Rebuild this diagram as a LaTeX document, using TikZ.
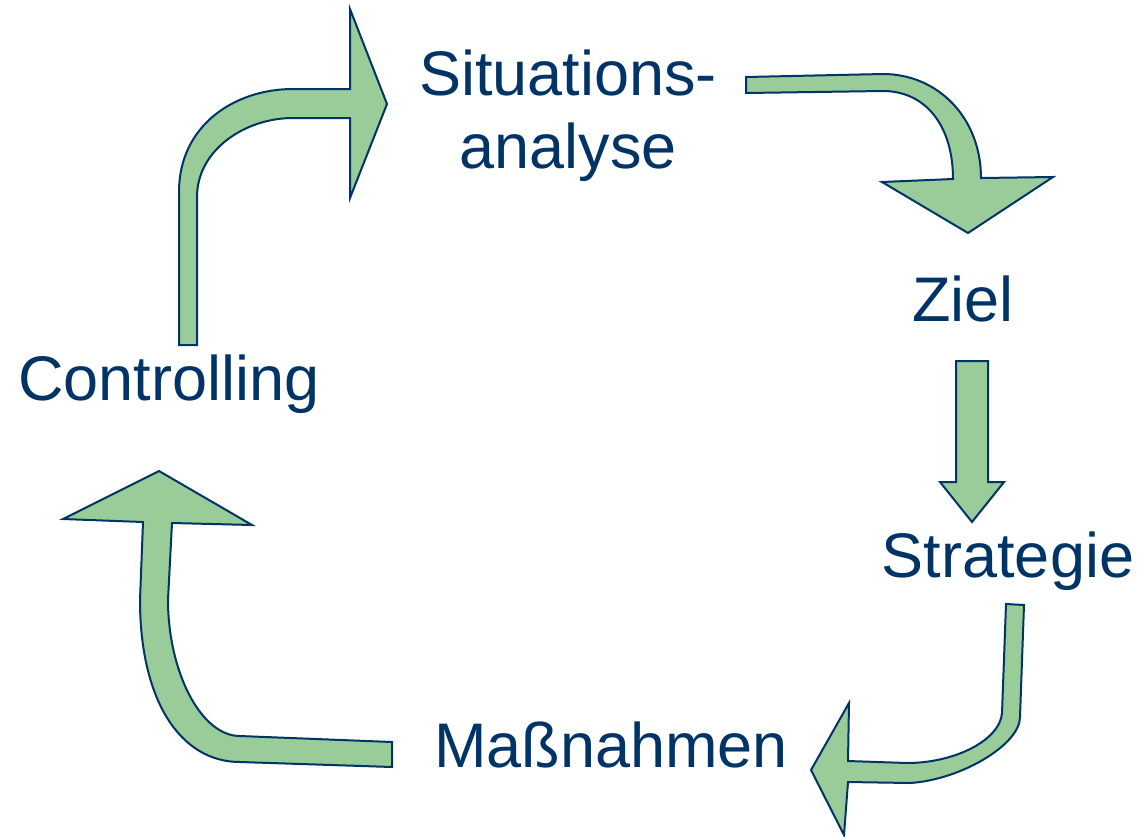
\documentclass[tikz,border=0pt]{standalone}
\usepackage{fontspec}
\setmainfont{Liberation Sans}
\definecolor{navy}{RGB}{0,51,102}
\definecolor{leaf}{RGB}{153,204,153}
\tikzset{
  lbl/.style={text=navy, inner sep=0pt, anchor=base, font=\fontsize{63}{73}\selectfont},
  bigarrow/.style={fill=leaf, draw=navy, line width=2pt, line join=miter}
}
\begin{document}
\begin{tikzpicture}[x=1pt,y=-1pt]
\useasboundingbox (0,0) rectangle (1142,836);
% texts
\node[lbl, align=center] (sit) at (568,168) {Situations-\\analyse};
\node[lbl] (ziel) at (963,321) {Ziel};
\node[lbl] (strat) at (1008,577) {Strategie};
\node[lbl] (mass) at (611,767) {Maßnahmen};
\node[lbl] (ctrl) at (169,400) {Controlling};
% arrow Controlling -> Situationsanalyse
\draw[bigarrow] (179,345) -- (179,192) .. controls (179,125) and (235,89) .. (293,89)
  -- (350,89) -- (350,9) -- (387,104) -- (350,198) -- (350,118) -- (293,118)
  .. controls (245,118) and (197,150) .. (197,197) -- (197,345) -- cycle;
% arrow Situationsanalyse -> Ziel
\draw[bigarrow] (746,77) -- (883,74) .. controls (938,74) and (981,118) .. (981,178)
  -- (1053,177) -- (968,233) -- (882,182) -- (953,179)
  .. controls (953,125) and (925,91) .. (883,91) -- (746,93) -- cycle;
% arrow Ziel -> Strategie
\draw[bigarrow] (956,361) -- (988,361) -- (988,482) -- (1004,482) -- (972,522)
  -- (940,482) -- (956,482) -- cycle;
% arrow Strategie -> Massnahmen
\draw[bigarrow] (1006,604) -- (1024,605) -- (1020,717) .. controls (1020,745) and (960,780) .. (910,783)
  -- (848,782) -- (844,835) -- (811,770) -- (849,703) -- (848,761) -- (907,763)
  .. controls (955,763) and (1000,740) .. (1002,713) -- cycle;
% arrow Massnahmen -> Controlling
\draw[bigarrow] (392,742) -- (392,767) -- (240,762) .. controls (180,762) and (140,700) .. (140,600)
  -- (143,522) -- (63,519) -- (159,471) -- (252,525) -- (172,523) -- (168,600)
  .. controls (168,670) and (200,736) .. (240,736) -- cycle;
\end{tikzpicture}
\end{document}
